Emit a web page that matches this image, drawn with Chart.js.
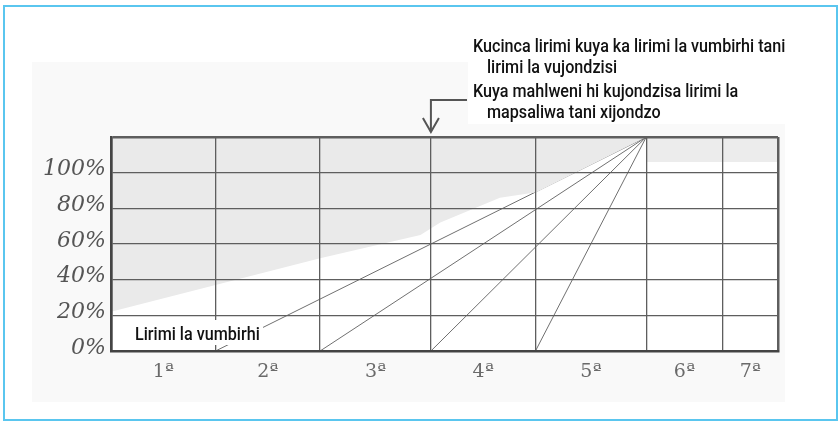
<!DOCTYPE html>
<html>
<head>
<meta charset="utf-8">
<script src="https://cdn.jsdelivr.net/npm/chart.js@4.4.1/dist/chart.umd.min.js"></script>
<style>
  html, body { margin: 0; padding: 0; background: #fff; }
  canvas { display: block; }
</style>
</head>
<body>
<canvas id="grafico" width="840" height="422"></canvas>
<script>
// colunas 1ª..7ª e as margens delas no eixo x
const columnLabels = ['1ª', '2ª', '3ª', '4ª', '5ª', '6ª', '7ª'];
const columnEdges = [0, 1, 2, 3.06, 4.06, 5.12, 5.85, 6.38];
const yMax = 120;
const yStep = 20;

// zona cinzenta (limite inferior)
const shadeX = [0, 1, 2, 2.96, 3.15, 3.72, 4.07, 4.68, 5.12];
const shadeY = [22, 37, 52, 65, 72, 86, 89, 107, 120];
const stripX = [5.12, 6.38];
const stripY = [106, 106];

// rectas que saem do canto
const rayTopX = 5.12;
const rayTopY = 120;
const rayFootX = [1, 2, 3.06, 4.06];

// textos
const topNotes = [
  'Kucinca lirimi kuya ka lirimi la vumbirhi tani',
  'lirimi la vujondzisi',
  'Kuya mahlweni hi kujondzisa lirimi la',
  'mapsaliwa tani xijondzo'
];
const bottomNote = 'Lirimi la vumbirhi';

const columnCenters = columnLabels.map((_, i) => (columnEdges[i] + columnEdges[i + 1]) / 2);
const isEdge = v => columnEdges.some(e => Math.abs(e - v) < 1e-6);

const datasets = [
  {
    data: shadeX.map((x, i) => ({ x: x, y: shadeY[i] })),
    fill: 'end',
    backgroundColor: '#eaeaea',
    borderWidth: 0,
    pointRadius: 0
  },
  {
    data: stripX.map((x, i) => ({ x: x, y: stripY[i] })),
    fill: 'end',
    backgroundColor: '#ececec',
    borderWidth: 0,
    pointRadius: 0
  }
];
rayFootX.forEach(fx => {
  datasets.push({
    data: [{ x: fx, y: 0 }, { x: rayTopX, y: rayTopY }],
    fill: false,
    borderColor: '#707070',
    borderWidth: 1,
    pointRadius: 0
  });
});

function drawNote(c, text, x, y, size, sx) {
  c.save();
  c.translate(x, y);
  c.scale(sx, 1);
  c.font = '500 ' + size + 'px Roboto';
  c.fillStyle = '#111';
  c.textBaseline = 'alphabetic';
  c.fillText(text, 0, 0);
  c.restore();
}

const decoracao = {
  id: 'decoracao',
  beforeDraw(chart) {
    const c = chart.ctx;
    const a = chart.chartArea;
    c.save();
    c.fillStyle = '#fff';
    c.fillRect(0, 0, chart.width, chart.height);
    c.fillStyle = '#f9f9f9';
    c.fillRect(32, 62, 753, 340);
    c.fillStyle = '#fff';
    c.fillRect(a.left, a.top, a.right - a.left, a.bottom - a.top);
    c.restore();
  },
  afterDraw(chart) {
    const c = chart.ctx;
    const xs = chart.scales.x;
    c.save();
    // caixas brancas dos textos
    c.fillStyle = '#fff';
    c.fillRect(468, 26, 324, 98);
    c.fillRect(132, 320, 131, 25);

    // seta
    const ax = xs.getPixelForValue(columnEdges[3]);
    c.strokeStyle = '#555';
    c.lineWidth = 2;
    c.beginPath();
    c.moveTo(467, 100);
    c.lineTo(ax, 100);
    c.lineTo(ax, 132);
    c.stroke();
    c.beginPath();
    c.moveTo(ax - 8, 118);
    c.lineTo(ax, 132);
    c.lineTo(ax + 8, 118);
    c.stroke();

    drawNote(c, topNotes[0], 473, 52, 19, 0.85);
    drawNote(c, topNotes[1], 487, 73, 19, 0.85);
    drawNote(c, topNotes[2], 473, 97, 19, 0.85);
    drawNote(c, topNotes[3], 487, 118, 19, 0.85);
    drawNote(c, bottomNote, 135, 340, 19, 0.85);

    // moldura azul
    c.strokeStyle = '#5ac6ef';
    c.lineWidth = 2;
    c.strokeRect(4, 6, 833, 414);
    c.restore();
  }
};

new Chart(document.getElementById('grafico'), {
  type: 'line',
  data: { datasets: datasets },
  options: {
    responsive: false,
    animation: false,
    layout: { padding: { left: 0, top: 137, right: 62, bottom: 31 } },
    plugins: {
      legend: { display: false },
      tooltip: { enabled: false }
    },
    scales: {
      x: {
        type: 'linear',
        min: columnEdges[0],
        max: columnEdges[columnEdges.length - 1],
        afterBuildTicks(scale) {
          scale.ticks = columnEdges.concat(columnCenters)
            .sort((a, b) => a - b)
            .map(v => ({ value: v }));
        },
        afterFit(scale) { scale.height = 40; },
        grid: {
          z: 1,
          drawTicks: false,
          color: ctx => isEdge(ctx.tick.value) ? '#5e5e5e' : 'rgba(0,0,0,0)',
          lineWidth: ctx => {
            const v = ctx.tick.value;
            return (v === columnEdges[0] || v === columnEdges[columnEdges.length - 1]) ? 2.5 : 1.3;
          }
        },
        border: { display: true, color: '#444', width: 2.5, z: 2 },
        ticks: {
          z: 1,
          autoSkip: false,
          maxRotation: 0,
          padding: 10,
          color: '#6a6a6a',
          font: { family: 'DejaVu Serif', size: 19 },
          callback: value => {
            const i = columnCenters.findIndex(m => Math.abs(m - value) < 1e-6);
            return i >= 0 ? columnLabels[i] : '';
          }
        }
      },
      y: {
        min: 0,
        max: yMax,
        afterFit(scale) { scale.width = 111; },
        grid: {
          z: 1,
          drawTicks: false,
          color: '#5e5e5e',
          lineWidth: ctx => ctx.tick.value === yMax ? 2.5 : 1.3
        },
        border: { display: true, color: '#444', width: 2.5, z: 2 },
        ticks: {
          z: 1,
          stepSize: yStep,
          padding: 5,
          labelOffset: -3,
          color: '#555',
          font: { family: 'DejaVu Serif', size: 22, style: 'italic' },
          callback: value => value === yMax ? '' : value + '%'
        }
      }
    }
  },
  plugins: [decoracao]
});
</script>
</body>
</html>
